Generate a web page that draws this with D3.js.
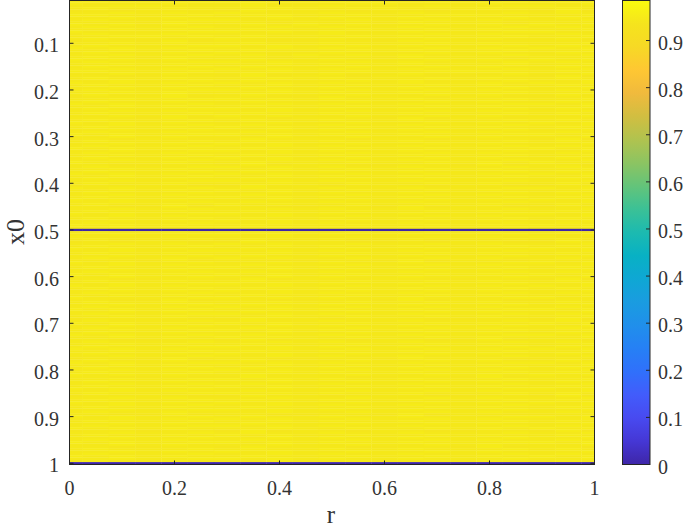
<!DOCTYPE html>
<html><head><meta charset="utf-8">
<script src="https://cdn.jsdelivr.net/npm/d3@7"></script>
<style>
html,body{margin:0;padding:0;background:#fff;}
svg{display:block;}
text{font-family:"Liberation Serif","Times New Roman",serif;fill:#333;}
</style></head>
<body>
<svg id="chart" width="685" height="530"></svg>
<script>
// ---- data ----
const rValues = [0,0.05,0.1,0.15,0.2,0.25,0.3,0.35,0.4,0.45,0.5,0.55,0.6,0.65,0.7,0.75,0.8,0.85,0.9,0.95,1];
const x0Step = 0.005; // rows at x0 = 0.005, 0.010, ..., 1.000
const xTicks = [0,0.2,0.4,0.6,0.8,1];
const yTicks = [0.1,0.2,0.3,0.4,0.5,0.6,0.7,0.8,0.9,1];
const cbTicks = [0,0.1,0.2,0.3,0.4,0.5,0.6,0.7,0.8,0.9];
const cbMax = 0.985;
// each char: digit d -> value 0.925 + d*0.005 ; '_' -> 0
const rowsTop = [
"445454445544454454445","454445544454445445454","544454454445544454445","445544454454445445544","454454445445544454454",
"343444354443443444353","445454544454454445454","554445455445445554445","445454445454454445454","454445544445445454445",
"444354443444354443444","545454454545445454545","454445445454454445454","445454454445445454445","544445545454454445544",
"454454444454445454454","445545454445454445445","454444544454445454454","344353443344354434443","445454454454445454445",
"454445545445454445454","545454445454445454545","445445454445454445445","454454544454445454454","445445454545454445445",
"454354443444354443444","545454454454445454545","454445545445454445454","445454445454454445445","454445454445445454454",
"445454545454454445445","554445445445445554454","445454454454454445445","443344353443443344353","454454445454445454454",
"445445454445454445445","545454545454454454545","454445445445445454454","445454454454454445445","454445545445445454454",
"445454445454454445445","454454454445445454454","344453443354443443344","445445545454454445445","454454454445445454454",
"545445445454454445545","445454454445445454445","454445545454454445454","445454445445445454445","454445454454454445454",
"445454545445445454445","444353443444353443444","454445454454454445454","545454445445445454545","445445454454454445445",
"454454545445445454454","445445445454454445445","454454454445445454454","545445545454454445545","445454445445445454445",
"343443354443443344353","454445454454454445454","445454545445445454445","454445445454454445454","545454454445445454545",
"445445545454454445445","454454445445445454454","445445454454454445445","454454545445445454454","445445445454454445445",
"544454454445445454544","443344353443344353443","454445545454454445454","445454445445445454445","454445454454454445454",
"545454545445445454545","445445445454454445445","454454454445445454454","445445545454454445445","454454445445445454454",
"344443354434443443344","545445454454454445545","445454545445445454445","454445445454454445454","445454454445445454445",
"454445545454454445454","545454445445445454545","445445454454454445445","454454545445445454454","443353443344353443344",
"445445445454454445445","454454454445445454454","545445545454454445545","445454445445445454445","454445454454454445454",
"445454545445445454445","454445445454454445454","545454454445445454545","445445545454454445445",
"_____________________"
];
const rowsBottom = [
"454454454445445454454","445445545454454445445","544454445445445454544","454445454454454445454","343443354443343443354",
"445454545445445454445","454445445454454445454","545454454445445454545","445445545454454445445","454454445445445454454",
"445445454454454445445","454454545445445454454","444353443344353443444","545445445454454445545","445454454445445454445",
"454445545454454445454","445454445445445454445","454445454454454445454","545454545445445454545","445445445454454445445",
"343344353443443344353","454454454445445454454","445445545454454445445","545454445445445454545","454445454454454445454",
"445454545445445454445","454445445454454445454","445454454445445454445","544445545454454445544","443353443344353443344",
"454454445445445454454","445445454454454445445","454454545445445454454","545445445454454445545","445454454445445454445",
"454445545454454445454","445454445445445454445","344443354434443344353","454445454454454445454","545454545445445454545",
"445445445454454445445","454454454445445454454","445445545454454445445","454454445445445454454","545445454454454445545",
"445454545445445454445","443344353443443353443","454445445454454445454","445454454445445454445","454445545454454445454",
"545454445445445454545","445445454454454445445","454454545445445454454","445445445454454445445","344353443344354443344",
"454454454445445454454","545445545454454445545","445454445445445454445","454445454454454445454","445454545445445454445",
"454445445454454445454","545454454445445454545","443343354443344353443","445445545454454445445","454454445445445454454",
"445445454454454445445","454454545445445454454","545445445454454445545","445454454445445454445","454445545454454445454",
"344443354434443344353","445454445445445454445","454445454454454445454","545454545445445454545","445445445454454445445",
"454454454445445454454","445445545454454445445","454454445445445454454","443353443344353443344","545445454454454445545",
"445454545445445454445","454445445454454445454","445454454445445454445","454445545454454445454","545454445445445454545",
"344344353443443344353","445445454454454445445","454454545445445454454","445445445454454445445","454454454445445454454",
"545445545454454445545","445454445445445454445","443344354443344353443","454445454454454445454","445454545445445454445",
"454445445454454445454","545454454445445454545","445445545454454445445","454454445445445454454",
"_____________________"
];

// parula-like colormap stops (evenly spaced, 0..1)
const parula = [
[0.242,0.150,0.660],[0.272,0.214,0.836],[0.282,0.290,0.940],[0.260,0.360,0.985],[0.190,0.440,0.985],
[0.150,0.500,0.960],[0.125,0.560,0.920],[0.100,0.610,0.880],[0.060,0.655,0.830],[0.030,0.695,0.770],
[0.110,0.730,0.690],[0.230,0.755,0.590],[0.390,0.770,0.480],[0.550,0.770,0.385],[0.690,0.765,0.310],
[0.820,0.745,0.255],[0.940,0.730,0.240],[0.995,0.780,0.200],[0.970,0.852,0.145],[0.959,0.895,0.113],
[0.976,0.983,0.054]];
function parulaAt(t){
  t = Math.max(0, Math.min(1, t));
  const p = t*(parula.length-1), i = Math.min(parula.length-2, Math.floor(p)), f = p - i;
  const a = parula[i], b = parula[i+1];
  const c = a.map((v,k)=>Math.round(255*(v + (b[k]-v)*f)));
  return `rgb(${c[0]},${c[1]},${c[2]})`;
}

// decode matrix
const rowStrings = rowsTop.concat(rowsBottom);
const cells = [];
rowStrings.forEach((s, ri) => {
  const x0 = +( (ri+1)*x0Step ).toFixed(4);
  rValues.forEach((r, ci) => {
    const ch = s[Math.min(ci, s.length-1)];
    const v = ch === '_' ? 0 : 0.925 + (+ch)*0.005;
    cells.push({r, x0, v});
  });
});

// ---- layout ----
const svg = d3.select('#chart');
const plot = {left:69.5, right:594.5, top:0.5, bottom:464.5};
const x = d3.scaleLinear().domain([0,1]).range([plot.left, plot.right]);
const y = d3.scaleLinear().domain([0.0083, 1.0026]).range([plot.top, plot.bottom]);
const color = d3.scaleSequential(parulaAt).domain([0, cbMax]);
const rHalf = 0.025, yHalf = x0Step/2;
const ink = '#262626';

svg.append('clipPath').attr('id','pc').append('rect')
  .attr('x',plot.left).attr('y',plot.top)
  .attr('width',plot.right-plot.left).attr('height',plot.bottom-plot.top);

svg.append('g').attr('clip-path','url(#pc)')
  .selectAll('rect').data(cells).join('rect')
  .attr('x', d => x(d.r - rHalf))
  .attr('width', d => x(d.r + rHalf) - x(d.r - rHalf) + 0.3)
  .attr('y', d => y(d.x0 - yHalf))
  .attr('height', d => y(d.x0 + yHalf) - y(d.x0 - yHalf) + 0.3)
  .attr('fill', d => color(d.v));

// frame
svg.append('rect').attr('x',plot.left).attr('y',plot.top)
  .attr('width',plot.right-plot.left).attr('height',plot.bottom-plot.top)
  .attr('fill','none').attr('stroke',ink).attr('stroke-width',1);

const tl = 4;
const axes = svg.append('g').attr('stroke',ink).attr('stroke-width',1);
xTicks.forEach(v => {
  axes.append('line').attr('x1',x(v)).attr('x2',x(v)).attr('y1',plot.bottom).attr('y2',plot.bottom-tl);
  axes.append('line').attr('x1',x(v)).attr('x2',x(v)).attr('y1',plot.top).attr('y2',plot.top+tl);
});
yTicks.forEach(v => {
  axes.append('line').attr('x1',plot.left).attr('x2',plot.left+tl).attr('y1',y(v)).attr('y2',y(v));
  axes.append('line').attr('x1',plot.right).attr('x2',plot.right-tl).attr('y1',y(v)).attr('y2',y(v));
});

const fs = 20;
svg.append('g').selectAll('text').data(xTicks).join('text')
  .attr('x', d => x(d)).attr('y', 495).attr('text-anchor','middle')
  .attr('font-size', fs).text(d => String(d));
svg.append('g').selectAll('text').data(yTicks).join('text')
  .attr('x', 59).attr('y', d => y(d) + 9).attr('text-anchor','end')
  .attr('font-size', fs).text(d => String(d));

svg.append('text').attr('x', 331).attr('y', 523).attr('text-anchor','middle')
  .attr('font-size', 25).text('r');
svg.append('text').attr('transform','translate(24,232) rotate(-90)').attr('text-anchor','middle')
  .attr('font-size', 26).text('x0');

// colorbar
const cb = {left:622.5, right:650, top:0.5, bottom:464.5};
const cy = d3.scaleLinear().domain([0, cbMax]).range([cb.bottom, cb.top]);
const grad = svg.append('defs').append('linearGradient').attr('id','cbg')
  .attr('x1',0).attr('y1',1).attr('x2',0).attr('y2',0);
parula.forEach((c,i) => {
  grad.append('stop').attr('offset', i/(parula.length-1))
    .attr('stop-color', `rgb(${c.map(v=>Math.round(v*255)).join(',')})`);
});
svg.append('rect').attr('x',cb.left).attr('y',cb.top)
  .attr('width',cb.right-cb.left).attr('height',cb.bottom-cb.top)
  .attr('fill','url(#cbg)').attr('stroke',ink).attr('stroke-width',1);
const cbAxis = svg.append('g').attr('stroke',ink).attr('stroke-width',1);
cbTicks.forEach(v => {
  cbAxis.append('line').attr('x1',cb.right).attr('x2',cb.right-tl).attr('y1',cy(v)).attr('y2',cy(v));
});
svg.append('g').selectAll('text').data(cbTicks).join('text')
  .attr('x', 658).attr('y', d => cy(d) + 9).attr('text-anchor','start')
  .attr('font-size', fs).text(d => String(d));
</script>
</body></html>
